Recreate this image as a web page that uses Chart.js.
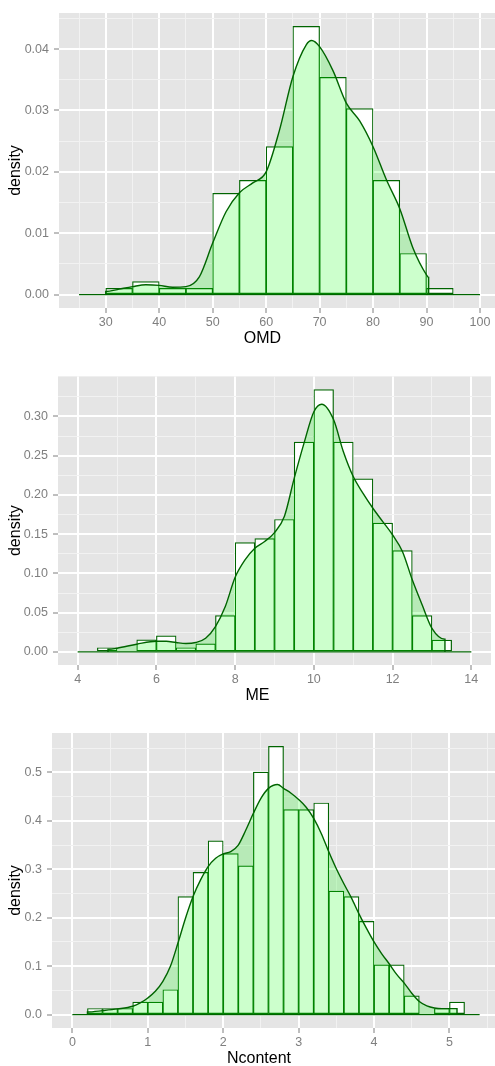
<!DOCTYPE html>
<html>
<head>
<meta charset="utf-8">
<title>Histogram + density</title>
<script src="https://cdn.jsdelivr.net/npm/chart.js@4.4.1/dist/chart.umd.min.js"></script>
<style>
  html, body { margin: 0; padding: 0; background: #fff; overflow: hidden; }
  #page { position: relative; width: 495px; height: 1066px; overflow: hidden; }
  canvas { position: absolute; left: 0; display: block; }
</style>
</head>
<body>
<div id="page">
  <canvas id="omd" width="500" height="350" style="top:0px"></canvas>
  <canvas id="me" width="491" height="357" style="top:350px"></canvas>
  <canvas id="ncontent" width="500" height="359" style="top:707px"></canvas>
</div>
<script>
// --- OMD ---
const omdBinMids = [32.5, 37.5, 42.5, 47.5, 52.5, 57.5, 62.5, 67.5, 72.5, 77.5, 82.5, 87.5, 92.5];
const omdBinDensity = [0.0010, 0.0021, 0.0010, 0.0010, 0.0165, 0.0186, 0.0241, 0.0437, 0.0354, 0.0303, 0.0186, 0.0067, 0.0010];
const omdCurveX = [30, 30, 32.5, 35, 37.5, 40, 42.5, 45, 47.5, 50, 52.5, 55, 57.5, 60, 62.5, 65, 67.5, 68.5, 70, 72.5, 75, 77.5, 80, 82.5, 85, 87.5, 90, 90.4, 90.4];
const omdCurveY = [0, 0.0005, 0.0009, 0.0013, 0.0016, 0.0015, 0.0012, 0.0013, 0.0029, 0.0084, 0.0135, 0.0166, 0.0182, 0.0200, 0.0268, 0.0355, 0.0407, 0.0414, 0.0404, 0.0365, 0.0312, 0.0283, 0.0241, 0.0187, 0.0140, 0.0075, 0.0032, 0.0028, 0];
const omdRange = [25, 100];
const omdXTicks = [30, 40, 50, 60, 70, 80, 90, 100];
const omdXMinor = [25, 35, 45, 55, 65, 75, 85, 95];
const omdYTicks = [0, 0.01, 0.02, 0.03, 0.04];
const omdYMinor = [0.005, 0.015, 0.025, 0.035, 0.045];

// --- ME ---
const meBinMids = [4.75, 5.75, 6.25, 6.75, 7.25, 7.75, 8.25, 8.75, 9.25, 9.75, 10.25, 10.75, 11.25, 11.75, 12.25, 12.75, 13.25];
const meBinDensity = [0.0053, 0.0153, 0.0204, 0.0053, 0.0102, 0.0463, 0.1393, 0.1444, 0.1687, 0.2672, 0.3343, 0.2672, 0.2205, 0.1640, 0.1291, 0.0463, 0.0149];
const meCurveX = [4.77, 4.77, 5.0, 5.5, 6.0, 6.25, 6.5, 6.75, 7.0, 7.25, 7.5, 7.75, 8.0, 8.25, 8.5, 8.75, 9.0, 9.25, 9.5, 9.75, 10.0, 10.2, 10.5, 10.75, 11.0, 11.25, 11.5, 11.75, 12.0, 12.25, 12.5, 12.75, 13.0, 13.33, 13.33];
const meCurveY = [0, 0.0034, 0.0047, 0.0098, 0.0136, 0.0136, 0.0119, 0.0106, 0.0119, 0.0174, 0.0323, 0.0578, 0.095, 0.1172, 0.1321, 0.1406, 0.152, 0.1725, 0.221, 0.266, 0.306, 0.3156, 0.296, 0.255, 0.2234, 0.202, 0.183, 0.166, 0.149, 0.128, 0.0918, 0.060, 0.030, 0.0161, 0];
const meRange = [4, 14];
const meXTicks = [4, 6, 8, 10, 12, 14];
const meXMinor = [5, 7, 9, 11, 13];
const meYTicks = [0, 0.05, 0.10, 0.15, 0.20, 0.25, 0.30];
const meYMinor = [0.025, 0.075, 0.125, 0.175, 0.225, 0.275, 0.325];

// --- Ncontent ---
const ncBinMids = [0.3, 0.5, 0.7, 0.9, 1.1, 1.3, 1.5, 1.7, 1.9, 2.1, 2.3, 2.5, 2.7, 2.9, 3.1, 3.3, 3.5, 3.7, 3.9, 4.1, 4.3, 4.5, 4.9, 5.1];
const ncBinDensity = [0.0126, 0.0126, 0.0126, 0.0256, 0.0256, 0.0513, 0.2436, 0.2936, 0.3585, 0.3324, 0.3070, 0.5007, 0.5536, 0.4231, 0.4231, 0.4368, 0.2548, 0.2436, 0.1923, 0.1026, 0.1026, 0.0385, 0.0126, 0.0256];
const ncCurveX = [0.2, 0.2, 0.4, 0.6, 0.8, 0.9, 1.0, 1.1, 1.2, 1.3, 1.4, 1.5, 1.6, 1.7, 1.8, 1.9, 2.0, 2.1, 2.2, 2.3, 2.4, 2.5, 2.6, 2.72, 2.8, 2.9, 3.0, 3.1, 3.2, 3.3, 3.4, 3.5, 3.6, 3.7, 3.8, 3.9, 4.0, 4.1, 4.2, 4.3, 4.4, 4.5, 4.6, 4.7, 4.8, 4.9, 5.0, 5.1, 5.1];
const ncCurveY = [0, 0.0055, 0.0082, 0.0117, 0.0172, 0.024, 0.0343, 0.048, 0.0687, 0.0996, 0.1477, 0.199, 0.2438, 0.278, 0.3056, 0.3228, 0.3317, 0.3365, 0.350, 0.381, 0.4155, 0.4464, 0.467, 0.475, 0.467, 0.457, 0.444, 0.428, 0.405, 0.374, 0.336, 0.301, 0.270, 0.241, 0.208, 0.178, 0.150, 0.126, 0.105, 0.083, 0.065, 0.044, 0.027, 0.018, 0.0137, 0.0124, 0.0124, 0.0124, 0];
const ncRange = [0, 5.4];
const ncXTicks = [0, 1, 2, 3, 4, 5];
const ncXMinor = [0.5, 1.5, 2.5, 3.5, 4.5, 5.5];
const ncYTicks = [0, 0.1, 0.2, 0.3, 0.4, 0.5];
const ncYMinor = [0.05, 0.15, 0.25, 0.35, 0.45, 0.55];

const DARK = '#006400';
Chart.defaults.font.family = '"Liberation Sans", Arial, sans-serif';

// grey panel behind the grid
const panelBg = {
  id: 'panelBg',
  beforeDraw(chart) {
    const { ctx, chartArea: a } = chart;
    ctx.save();
    ctx.fillStyle = '#e5e5e5';
    ctx.fillRect(a.left, a.top, a.right - a.left, a.bottom - a.top);
    ctx.restore();
  }
};

// axis titles, placed like ggplot does
const axisTitles = {
  id: 'axisTitles',
  afterDraw(chart, args, opts) {
    const { ctx, chartArea: a } = chart;
    ctx.save();
    ctx.fillStyle = '#000';
    ctx.font = '16px "Liberation Sans", Arial, sans-serif';
    ctx.textAlign = 'center';
    ctx.textBaseline = 'middle';
    ctx.fillText(opts.x, (a.left + a.right) / 2 - 17, a.bottom + 30.5);
    ctx.translate(15.5, (a.top + a.bottom) / 2 + 10);
    ctx.rotate(-Math.PI / 2);
    ctx.fillText(opts.y, 0, 0);
    ctx.restore();
  }
};

function gridStyle(majors) {
  const isMajor = c => c.tick && majors.includes(c.tick.value);
  return {
    color: c => isMajor(c) ? '#ffffff' : '#f2f2f2',
    lineWidth: c => isMajor(c) ? 2 : 1,
    tickColor: c => isMajor(c) ? '#7f7f7f' : 'rgba(0,0,0,0)',
    tickWidth: 1,
    tickLength: 5,
    offset: false
  };
}

function histChart(id, p) {
  const top = Math.max(...p.dens);
  const span = p.range[1] - p.range[0];
  const xAll = [...p.xTicks, ...p.xMinor].sort((a, b) => a - b);
  const yAll = [...p.yTicks, ...p.yMinor].sort((a, b) => a - b);

  return new Chart(document.getElementById(id), {
    type: 'bar',
    data: {
      datasets: [
        {
          type: 'line',
          data: p.range.map(x => ({ x, y: 0 })),
          borderColor: DARK,
          borderWidth: 1.4,
          pointRadius: 0,
          order: 0
        },
        {
          type: 'line',
          data: p.curveX.map((x, i) => ({ x, y: p.curveY[i] })),
          borderColor: DARK,
          borderWidth: 1.4,
          backgroundColor: 'rgba(0,255,0,0.2)',
          fill: 'origin',
          pointRadius: 0,
          cubicInterpolationMode: 'monotone',
          order: 1
        },
        {
          type: 'bar',
          data: p.mids.map((x, i) => ({ x, y: p.dens[i] })),
          backgroundColor: '#ffffff',
          borderColor: DARK,
          borderWidth: 1.2,
          borderSkipped: false,
          barPercentage: 1,
          categoryPercentage: 1,
          grouped: false,
          order: 2
        }
      ]
    },
    options: {
      responsive: false,
      animation: false,
      layout: { padding: { top: p.padTop, left: 0, right: 0, bottom: 0 } },
      plugins: {
        legend: { display: false },
        tooltip: { enabled: false },
        axisTitles: { x: p.title, y: 'density' }
      },
      scales: {
        x: {
          type: 'linear',
          offset: false,
          min: p.range[0] - 0.05 * span,
          max: p.range[1] + 0.05 * span,
          afterBuildTicks: s => { s.ticks = xAll.map(v => ({ value: v })); },
          afterFit: s => { s.height = p.axisH; },
          grid: gridStyle(p.xTicks),
          border: { display: false },
          ticks: {
            autoSkip: false,
            maxRotation: 0,
            padding: 2,
            color: '#7f7f7f',
            font: { size: 12.5 },
            callback: v => p.xTicks.includes(v) ? String(v) : ''
          }
        },
        y: {
          type: 'linear',
          min: -0.05 * top,
          max: 1.05 * top,
          afterBuildTicks: s => { s.ticks = yAll.map(v => ({ value: v })); },
          afterFit: s => { s.width = p.left; },
          grid: gridStyle(p.yTicks),
          border: { display: false },
          ticks: {
            autoSkip: false,
            padding: 5,
            color: '#7f7f7f',
            font: { size: 12.5 },
            callback: v => p.yTicks.includes(v) ? v.toFixed(p.yDigits) : ''
          }
        }
      }
    },
    plugins: [panelBg, axisTitles]
  });
}

histChart('omd', {
  title: 'OMD', mids: omdBinMids, dens: omdBinDensity,
  curveX: omdCurveX, curveY: omdCurveY, range: omdRange,
  xTicks: omdXTicks, xMinor: omdXMinor, yTicks: omdYTicks, yMinor: omdYMinor,
  yDigits: 2, left: 59, padTop: 13, axisH: 42
});

histChart('me', {
  title: 'ME', mids: meBinMids, dens: meBinDensity,
  curveX: meCurveX, curveY: meCurveY, range: meRange,
  xTicks: meXTicks, xMinor: meXMinor, yTicks: meYTicks, yMinor: meYMinor,
  yDigits: 2, left: 58, padTop: 26.4, axisH: 42
});

histChart('ncontent', {
  title: 'Ncontent', mids: ncBinMids, dens: ncBinDensity,
  curveX: ncCurveX, curveY: ncCurveY, range: ncRange,
  xTicks: ncXTicks, xMinor: ncXMinor, yTicks: ncYTicks, yMinor: ncYMinor,
  yDigits: 1, left: 52, padTop: 26, axisH: 38
});
</script>
</body>
</html>
